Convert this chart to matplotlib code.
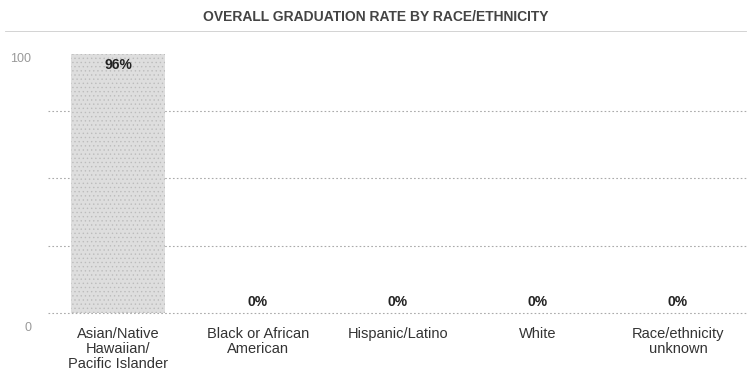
import matplotlib
matplotlib.use("Agg")
import matplotlib.pyplot as plt
import matplotlib.transforms as mtransforms

# Data
categories = ["Asian/Native\nHawaiian/\nPacific Islander", "Black or African\nAmerican",
              "Hispanic/Latino", "White", "Race/ethnicity\nunknown"]
rates = [96, 0, 0, 0, 0]
title = "OVERALL GRADUATION RATE BY RACE/ETHNICITY"

plt.rcParams['font.family'] = ['Liberation Sans', 'DejaVu Sans']
plt.rcParams['hatch.linewidth'] = 0.5

fig = plt.figure(figsize=(7.51, 3.85), dpi=100)
ax = fig.add_axes([0.064, 0.187, 0.932, 0.701])

x = range(len(categories))
ax.bar(x, rates, width=0.67, color="#dedede", edgecolor="#bcbcbc", linewidth=0,
       hatch="....", zorder=2)

# value labels
for i, v in enumerate(rates):
    if v > 5:
        ax.text(i, v - 1.5, f"{v}%", ha="center", va="top", fontsize=10,
                fontweight="bold", color="#222222", zorder=3)
    else:
        ax.text(i, v + 1.5, f"{v}%", ha="center", va="bottom", fontsize=10,
                fontweight="bold", color="#222222", zorder=3)

ax.set_xlim(-0.5, len(categories) - 0.5)
ax.set_ylim(0, 100)
ax.set_yticks([0, 100])
ax.set_yticklabels(["0", "100"], color="#999999", fontsize=9)
for g in [0, 25, 50, 75]:
    ax.axhline(g, linestyle=(0, (1.5, 2)), color="#aaaaaa", linewidth=0.8,
               zorder=1, clip_on=False)
ax.tick_params(axis="y", length=0, pad=12)
offset = mtransforms.ScaledTranslation(0, -10 / 72, fig.dpi_scale_trans)
for lbl in ax.get_yticklabels():
    lbl.set_transform(lbl.get_transform() + offset)

ax.set_xticks(list(x))
ax.set_xticklabels(categories, fontsize=10.5, color="#333333", linespacing=1.1)
ax.tick_params(axis="x", length=0, pad=10)

for s in ax.spines.values():
    s.set_visible(False)

fig.text(0.5, 0.955, title, ha="center", va="center", fontsize=10,
         fontweight="bold", color="#444444")
fig.add_artist(plt.Line2D([0.007, 0.993], [0.92, 0.92], color="#cccccc",
                          linewidth=0.6, transform=fig.transFigure))

fig.savefig("out.png", dpi=100)
